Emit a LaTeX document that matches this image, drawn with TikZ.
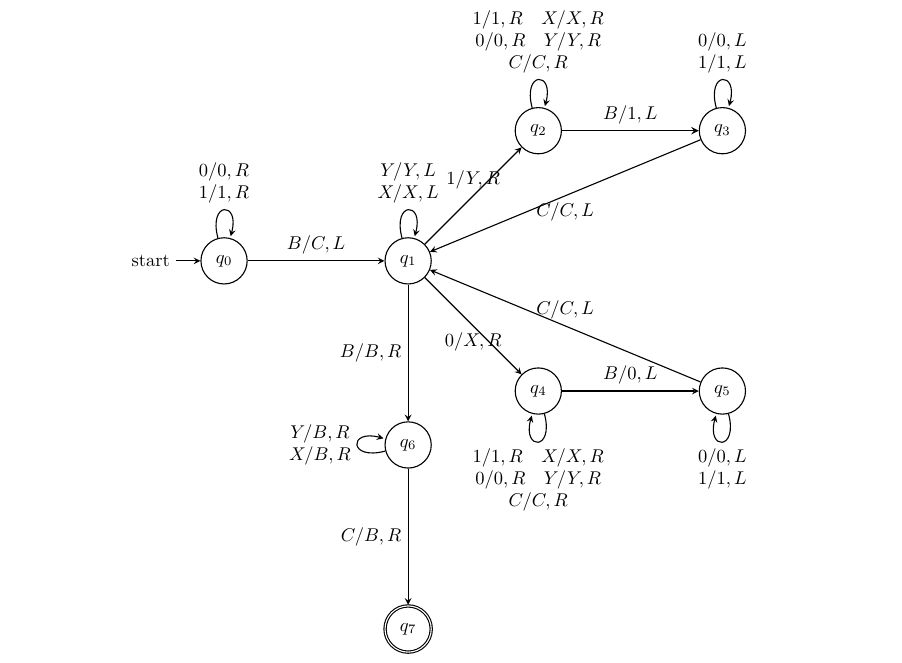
\documentclass[tikz,border=0pt]{standalone}
\usetikzlibrary{automata,arrows}
\begin{document}
\begin{tikzpicture}[->, >=stealth, semithick, node distance=3.5cm]
    \useasboundingbox (-4.26,-7.63) rectangle (12.89,4.96);
    \node[state, initial, initial text=start] (q0) {$q_0$};
    \node[state, right of=q0] (q1) {$q_1$};
    \node[state, above right of=q1] (q2) {$q_2$};
    \node[state, right of=q2] (q3) {$q_3$};
    \node[state, below right of=q1] (q4) {$q_4$};
    \node[state, right of=q4] (q5) {$q_5$};
    \node[state, below of=q1] (q6) {$q_6$};
    \node[state, accepting, below of=q6] (q7) {$q_7$};

    \path (q0) edge[loop above] node[above, align=center] {$0/0,R$\\$1/1,R$} (q0)
               edge node[above] {$B/C,L$} (q1);
    \path (q1) edge[loop above] node[above, align=center] {$Y/Y,L$\\$X/X,L$} (q1)
               edge node[above] {$1/Y,R$} (q2)
               edge node[below] {$0/X,R$} (q4)
               edge node[left] {$B/B,R$} (q6);
    \path (q2) edge[loop above] node[above, align=center]
                   {$1/1,R \quad X/X,R$\\$0/0,R \quad Y/Y,R$\\$C/C,R$} (q2)
               edge[thick] node[above] {$B/1,L$} (q3);
    \path (q3) edge[loop above] node[above, align=center] {$0/0,L$\\$1/1,L$} (q3)
               edge node[below] {$C/C,L$} (q1);
    \path (q4) edge[loop below] node[below, align=center]
                   {$1/1,R \quad X/X,R$\\$0/0,R \quad Y/Y,R$\\$C/C,R$} (q4)
               edge node[above] {$B/0,L$} (q5);
    \path (q5) edge[loop below] node[below, align=center] {$0/0,L$\\$1/1,L$} (q5)
               edge node[above] {$C/C,L$} (q1);
    \path (q6) edge[loop left] node[left, align=center] {$Y/B,R$\\$X/B,R$} (q6)
               edge node[left] {$C/B,R$} (q7);
\end{tikzpicture}
\end{document}
